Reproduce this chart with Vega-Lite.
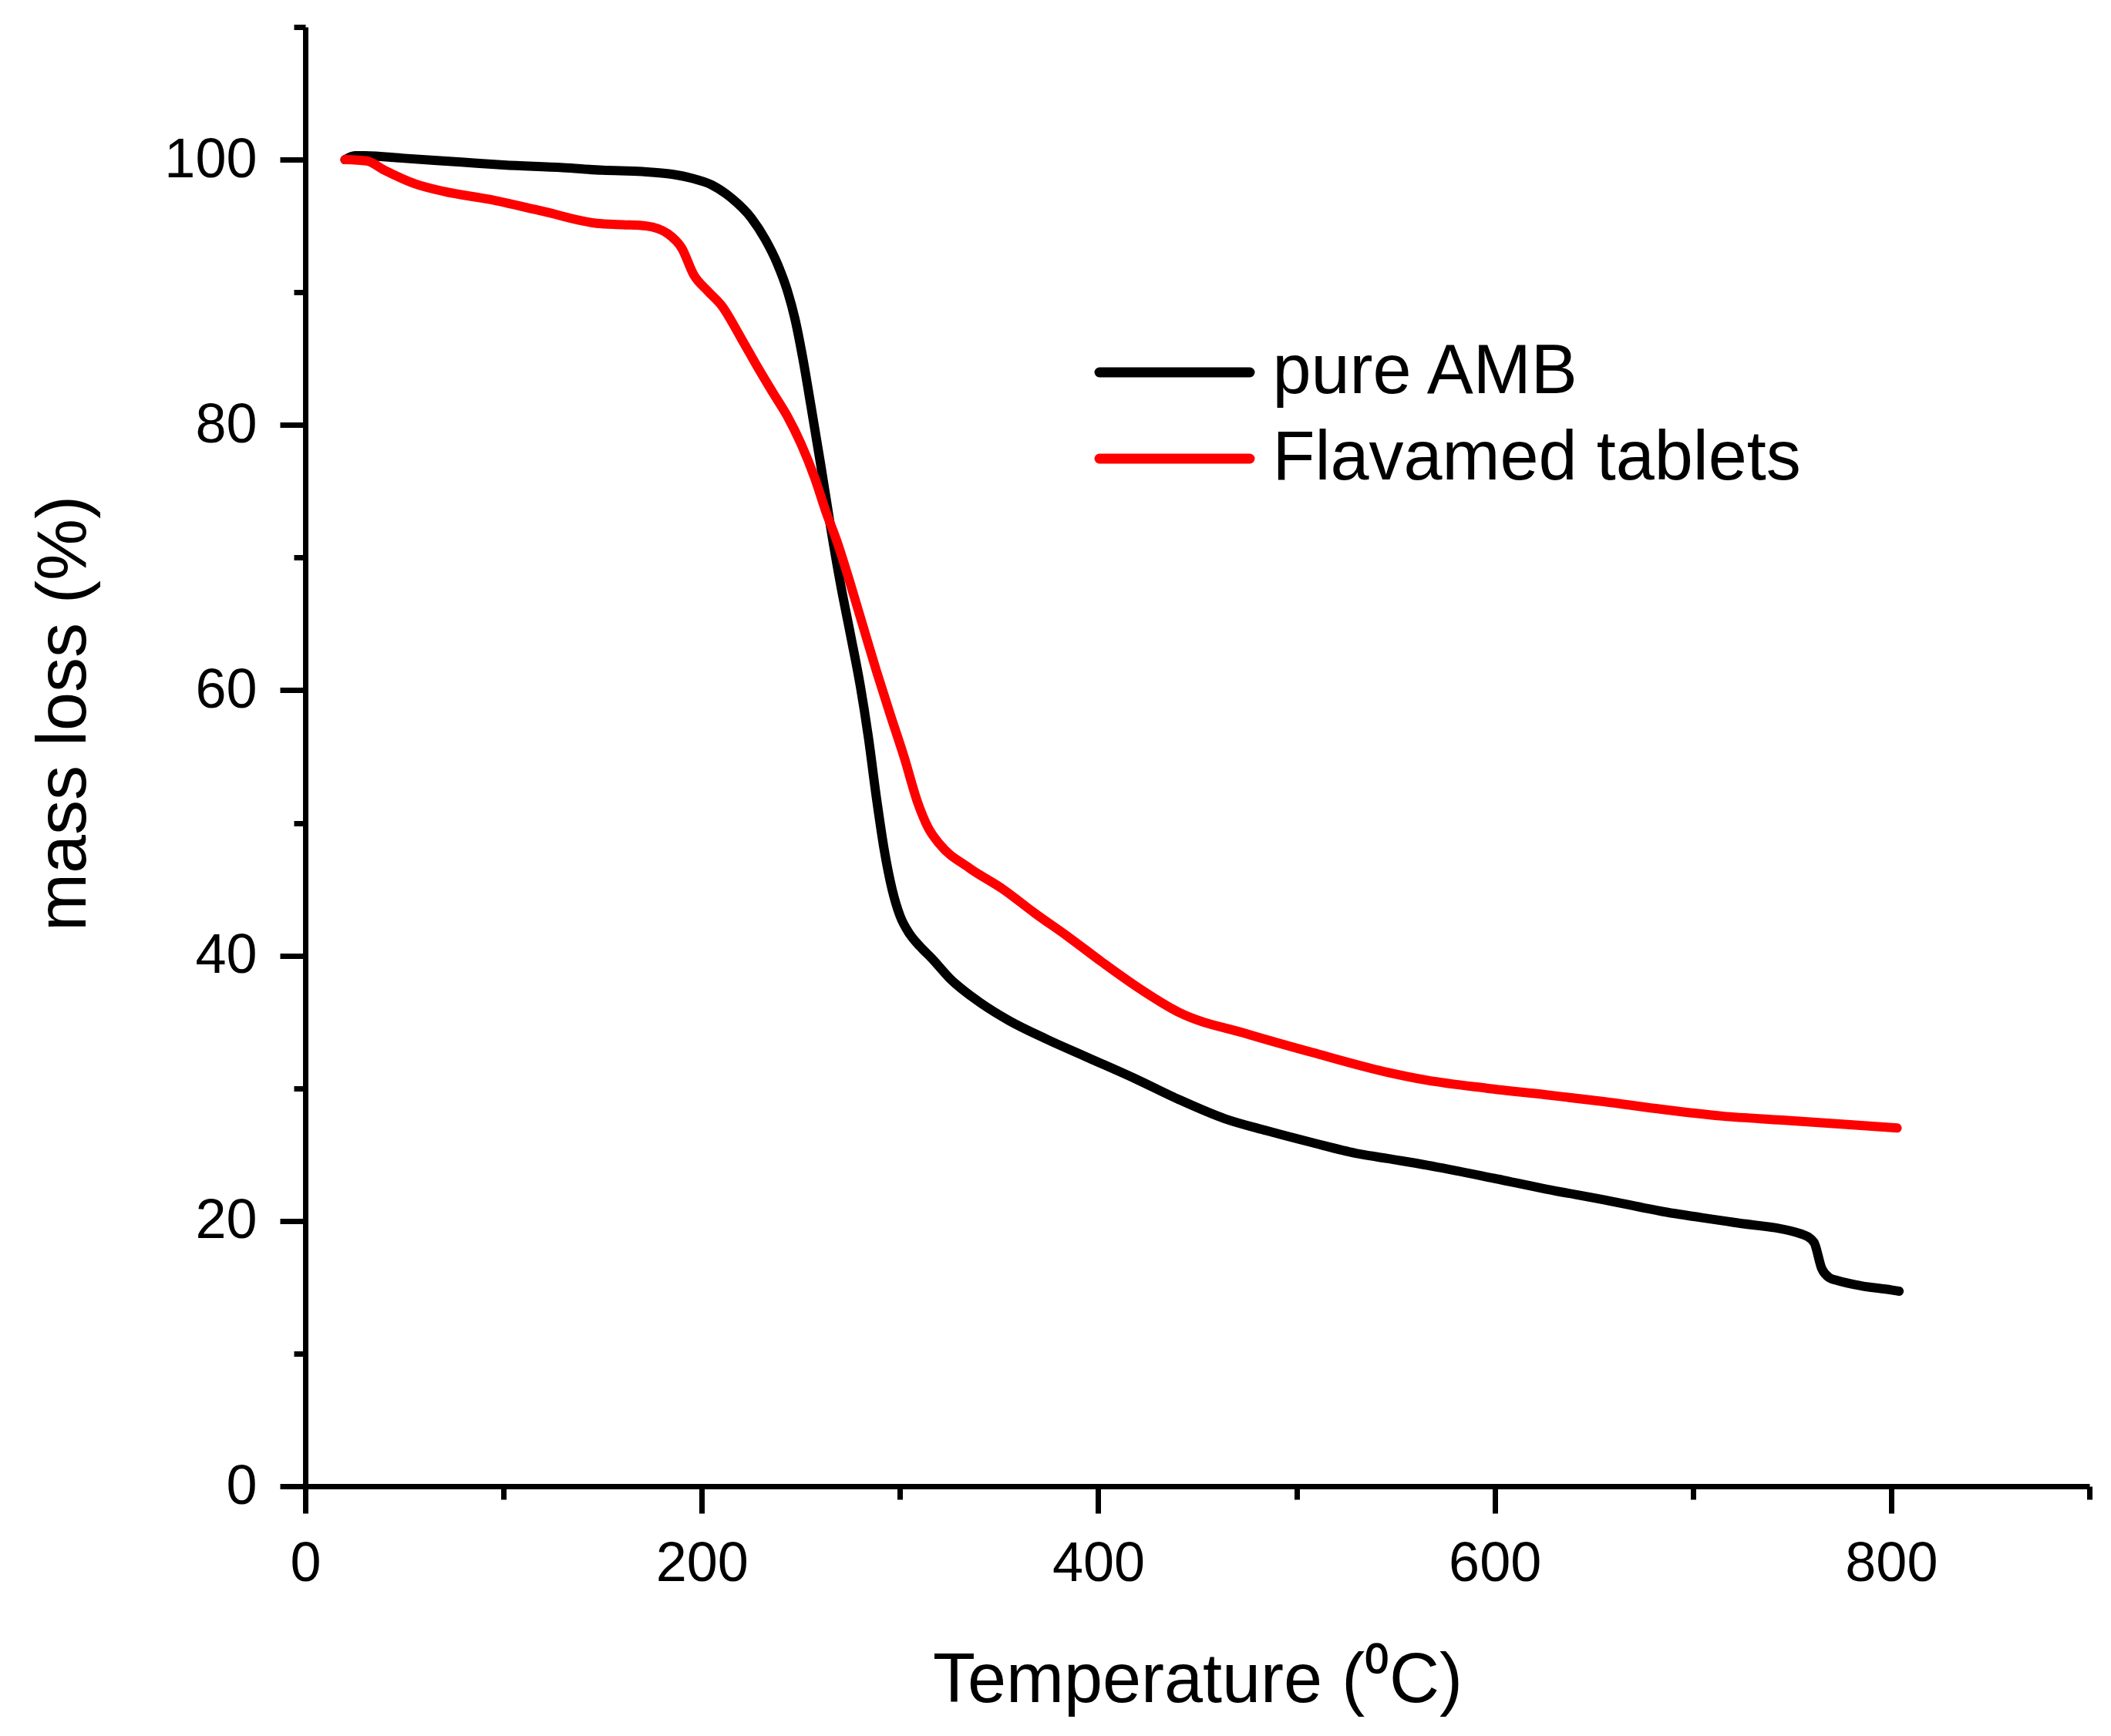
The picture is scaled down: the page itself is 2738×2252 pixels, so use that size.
{
  "$schema": "https://vega.github.io/schema/vega-lite/v6.json",
  "width": 2314,
  "height": 1893,
  "autosize": {"type": "none"},
  "padding": {"left": 396, "top": 35, "right": 28, "bottom": 324},
  "background": "#ffffff",
  "config": {
    "view": {"stroke": "transparent"},
    "font": "Liberation Sans"
  },
  "data": {
    "values": [
      {"sample": "pure AMB", "temperature": 20, "mass": 100.0},
      {"sample": "pure AMB", "temperature": 25, "mass": 100.3},
      {"sample": "pure AMB", "temperature": 30, "mass": 100.3},
      {"sample": "pure AMB", "temperature": 50, "mass": 100.1},
      {"sample": "pure AMB", "temperature": 80, "mass": 99.8},
      {"sample": "pure AMB", "temperature": 100, "mass": 99.6},
      {"sample": "pure AMB", "temperature": 130, "mass": 99.4},
      {"sample": "pure AMB", "temperature": 150, "mass": 99.2},
      {"sample": "pure AMB", "temperature": 170, "mass": 99.1},
      {"sample": "pure AMB", "temperature": 185, "mass": 98.9},
      {"sample": "pure AMB", "temperature": 195, "mass": 98.6},
      {"sample": "pure AMB", "temperature": 205, "mass": 98.1},
      {"sample": "pure AMB", "temperature": 215, "mass": 97.1},
      {"sample": "pure AMB", "temperature": 225, "mass": 95.6},
      {"sample": "pure AMB", "temperature": 232, "mass": 94.0},
      {"sample": "pure AMB", "temperature": 238, "mass": 92.2},
      {"sample": "pure AMB", "temperature": 243, "mass": 90.2},
      {"sample": "pure AMB", "temperature": 247, "mass": 88.0},
      {"sample": "pure AMB", "temperature": 251, "mass": 85.0},
      {"sample": "pure AMB", "temperature": 255, "mass": 81.5},
      {"sample": "pure AMB", "temperature": 260, "mass": 77.0},
      {"sample": "pure AMB", "temperature": 265, "mass": 72.3},
      {"sample": "pure AMB", "temperature": 270, "mass": 68.0},
      {"sample": "pure AMB", "temperature": 275, "mass": 64.2},
      {"sample": "pure AMB", "temperature": 280, "mass": 60.3},
      {"sample": "pure AMB", "temperature": 284, "mass": 56.5},
      {"sample": "pure AMB", "temperature": 288, "mass": 52.0},
      {"sample": "pure AMB", "temperature": 292, "mass": 48.0},
      {"sample": "pure AMB", "temperature": 296, "mass": 45.0},
      {"sample": "pure AMB", "temperature": 300, "mass": 43.0},
      {"sample": "pure AMB", "temperature": 305, "mass": 41.6},
      {"sample": "pure AMB", "temperature": 310, "mass": 40.7},
      {"sample": "pure AMB", "temperature": 316, "mass": 39.8},
      {"sample": "pure AMB", "temperature": 325, "mass": 38.3},
      {"sample": "pure AMB", "temperature": 340, "mass": 36.5},
      {"sample": "pure AMB", "temperature": 355, "mass": 35.1},
      {"sample": "pure AMB", "temperature": 374, "mass": 33.7},
      {"sample": "pure AMB", "temperature": 395, "mass": 32.3},
      {"sample": "pure AMB", "temperature": 419, "mass": 30.7},
      {"sample": "pure AMB", "temperature": 440, "mass": 29.2},
      {"sample": "pure AMB", "temperature": 464, "mass": 27.7},
      {"sample": "pure AMB", "temperature": 485, "mass": 26.8},
      {"sample": "pure AMB", "temperature": 508, "mass": 25.9},
      {"sample": "pure AMB", "temperature": 530, "mass": 25.1},
      {"sample": "pure AMB", "temperature": 546, "mass": 24.7},
      {"sample": "pure AMB", "temperature": 566, "mass": 24.2},
      {"sample": "pure AMB", "temperature": 600, "mass": 23.2},
      {"sample": "pure AMB", "temperature": 626, "mass": 22.4},
      {"sample": "pure AMB", "temperature": 655, "mass": 21.6},
      {"sample": "pure AMB", "temperature": 685, "mass": 20.7},
      {"sample": "pure AMB", "temperature": 720, "mass": 19.9},
      {"sample": "pure AMB", "temperature": 755, "mass": 19.0},
      {"sample": "pure AMB", "temperature": 761, "mass": 18.4},
      {"sample": "pure AMB", "temperature": 765, "mass": 16.4},
      {"sample": "pure AMB", "temperature": 769, "mass": 15.7},
      {"sample": "pure AMB", "temperature": 773, "mass": 15.5},
      {"sample": "pure AMB", "temperature": 785, "mass": 15.1},
      {"sample": "pure AMB", "temperature": 800, "mass": 14.8},
      {"sample": "pure AMB", "temperature": 804, "mass": 14.7},
      {"sample": "Flavamed tablets", "temperature": 20, "mass": 100.0},
      {"sample": "Flavamed tablets", "temperature": 31, "mass": 99.9},
      {"sample": "Flavamed tablets", "temperature": 40, "mass": 99.2},
      {"sample": "Flavamed tablets", "temperature": 55, "mass": 98.2},
      {"sample": "Flavamed tablets", "temperature": 70, "mass": 97.6},
      {"sample": "Flavamed tablets", "temperature": 93, "mass": 97.0},
      {"sample": "Flavamed tablets", "temperature": 120, "mass": 96.1},
      {"sample": "Flavamed tablets", "temperature": 147, "mass": 95.2},
      {"sample": "Flavamed tablets", "temperature": 160, "mass": 95.1},
      {"sample": "Flavamed tablets", "temperature": 172, "mass": 95.0},
      {"sample": "Flavamed tablets", "temperature": 183, "mass": 94.4},
      {"sample": "Flavamed tablets", "temperature": 190, "mass": 93.3},
      {"sample": "Flavamed tablets", "temperature": 196, "mass": 91.3},
      {"sample": "Flavamed tablets", "temperature": 203, "mass": 90.1},
      {"sample": "Flavamed tablets", "temperature": 210, "mass": 89.0},
      {"sample": "Flavamed tablets", "temperature": 220, "mass": 86.5},
      {"sample": "Flavamed tablets", "temperature": 228, "mass": 84.4},
      {"sample": "Flavamed tablets", "temperature": 236, "mass": 82.4},
      {"sample": "Flavamed tablets", "temperature": 243, "mass": 80.7},
      {"sample": "Flavamed tablets", "temperature": 250, "mass": 78.6},
      {"sample": "Flavamed tablets", "temperature": 257, "mass": 76.0},
      {"sample": "Flavamed tablets", "temperature": 263, "mass": 73.3},
      {"sample": "Flavamed tablets", "temperature": 268, "mass": 71.3},
      {"sample": "Flavamed tablets", "temperature": 275, "mass": 68.0},
      {"sample": "Flavamed tablets", "temperature": 281, "mass": 65.0},
      {"sample": "Flavamed tablets", "temperature": 288, "mass": 61.5},
      {"sample": "Flavamed tablets", "temperature": 295, "mass": 58.2},
      {"sample": "Flavamed tablets", "temperature": 302, "mass": 55.0},
      {"sample": "Flavamed tablets", "temperature": 309, "mass": 51.5},
      {"sample": "Flavamed tablets", "temperature": 314, "mass": 49.7},
      {"sample": "Flavamed tablets", "temperature": 320, "mass": 48.4},
      {"sample": "Flavamed tablets", "temperature": 335, "mass": 46.6},
      {"sample": "Flavamed tablets", "temperature": 352, "mass": 45.0},
      {"sample": "Flavamed tablets", "temperature": 368, "mass": 43.2},
      {"sample": "Flavamed tablets", "temperature": 385, "mass": 41.4},
      {"sample": "Flavamed tablets", "temperature": 402, "mass": 39.5},
      {"sample": "Flavamed tablets", "temperature": 419, "mass": 37.7},
      {"sample": "Flavamed tablets", "temperature": 441, "mass": 35.7},
      {"sample": "Flavamed tablets", "temperature": 475, "mass": 34.1},
      {"sample": "Flavamed tablets", "temperature": 508, "mass": 32.7},
      {"sample": "Flavamed tablets", "temperature": 546, "mass": 31.2},
      {"sample": "Flavamed tablets", "temperature": 566, "mass": 30.6},
      {"sample": "Flavamed tablets", "temperature": 596, "mass": 30.0},
      {"sample": "Flavamed tablets", "temperature": 626, "mass": 29.5},
      {"sample": "Flavamed tablets", "temperature": 655, "mass": 29.0},
      {"sample": "Flavamed tablets", "temperature": 685, "mass": 28.4},
      {"sample": "Flavamed tablets", "temperature": 715, "mass": 27.9},
      {"sample": "Flavamed tablets", "temperature": 745, "mass": 27.6},
      {"sample": "Flavamed tablets", "temperature": 775, "mass": 27.3},
      {"sample": "Flavamed tablets", "temperature": 803, "mass": 27.0}
    ]
  },
  "mark": {
    "type": "line",
    "strokeWidth": 12,
    "interpolate": "monotone",
    "strokeCap": "round",
    "strokeJoin": "round"
  },
  "encoding": {
    "x": {
      "field": "temperature",
      "type": "quantitative",
      "scale": {"domain": [0, 900], "nice": false},
      "axis": {
        "title": "Temperature (⁰C)",
        "values": [0, 100, 200, 300, 400, 500, 600, 700, 800, 900],
        "grid": false,
        "domainColor": "#000000",
        "domainWidth": 7,
        "tickColor": "#000000",
        "tickWidth": 7,
        "tickSize": {"condition": {"test": "datum.value % 200 === 0", "value": 35}, "value": 17},
        "labelExpr": "datum.value % 200 === 0 ? datum.label : ''",
        "labelFont": "Liberation Sans",
        "labelFontSize": 72,
        "labelColor": "#000000",
        "labelPadding": 30,
        "labelFlush": false,
        "labelOverlap": false,
        "titleFont": "Liberation Sans",
        "titleFontSize": 90,
        "titleFontWeight": "normal",
        "titleColor": "#000000",
        "titleBaseline": "alphabetic",
        "titleX": 1157,
        "titleY": 279
      }
    },
    "y": {
      "field": "mass",
      "type": "quantitative",
      "scale": {"domain": [0, 110], "nice": false},
      "axis": {
        "title": "mass loss (%)",
        "values": [0, 10, 20, 30, 40, 50, 60, 70, 80, 90, 100, 110],
        "grid": false,
        "domainColor": "#000000",
        "domainWidth": 7,
        "tickColor": "#000000",
        "tickWidth": 7,
        "tickSize": {"condition": {"test": "datum.value % 20 === 0", "value": 33}, "value": 15},
        "labelExpr": "datum.value % 20 === 0 ? datum.label : ''",
        "labelFont": "Liberation Sans",
        "labelFontSize": 72,
        "labelColor": "#000000",
        "labelPadding": 30,
        "labelFlush": false,
        "labelOverlap": false,
        "titleFont": "Liberation Sans",
        "titleFontSize": 90,
        "titleFontWeight": "normal",
        "titleColor": "#000000",
        "titleAngle": -90,
        "titleAlign": "center",
        "titleBaseline": "alphabetic",
        "titleX": -286,
        "titleY": 890
      }
    },
    "color": {
      "field": "sample",
      "type": "nominal",
      "sort": ["pure AMB", "Flavamed tablets"],
      "scale": {"domain": ["pure AMB", "Flavamed tablets"], "range": ["#000000", "#ff0000"]},
      "legend": {
        "orient": "none",
        "legendX": 1023,
        "legendY": 403,
        "title": null,
        "padding": 0,
        "symbolType": "M-2.6,0H2.6",
        "symbolSize": 5625,
        "symbolStrokeWidth": 13,
        "symbolOffset": 59.5,
        "labelOffset": 82,
        "labelFont": "Liberation Sans",
        "labelFontSize": 90,
        "labelColor": "#000000",
        "labelLimit": 1000,
        "rowPadding": 22,
        "encode": {"symbols": {"update": {"strokeCap": {"value": "round"}}}}
      }
    }
  }
}
